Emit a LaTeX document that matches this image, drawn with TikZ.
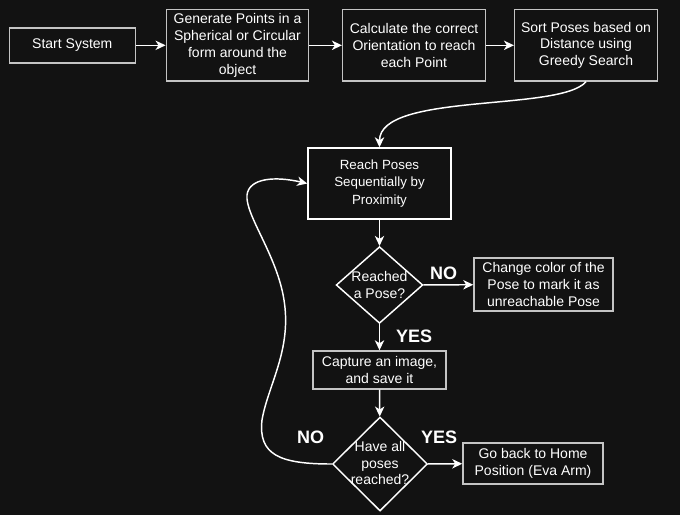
\documentclass[tikz,border=0pt]{standalone}
\usepackage{fontspec}
\setmainfont{Liberation Sans}
\usetikzlibrary{shapes.geometric,arrows.meta}
\definecolor{bgc}{HTML}{121212}
\definecolor{edgegray}{HTML}{C4C4C4}
\begin{document}
\begin{tikzpicture}[x=0.75pt,y=-0.75pt,
  box/.style={draw=edgegray, line width=1.1pt, fill=bgc, text=white, align=center, inner sep=0pt,
    font=\fontsize{10.5}{12.6}\selectfont},
  topbox/.style={box},
  dia/.style={diamond, draw=white, line width=1.1pt, fill=bgc, inner sep=0pt},
  diatext/.style={text=white, align=center, inner sep=0pt, font=\fontsize{10.5}{12.6}\selectfont},
  lbl/.style={text=white, inner sep=0pt, font=\bfseries\fontsize{13.5}{13.5}\selectfont},
  arr/.style={draw=white, line width=1.1pt, -{Stealth[length=7.5pt,width=7pt,inset=2.2pt]}}
]
\fill[bgc] (0,0) rectangle (680,515);
\useasboundingbox (0,0) rectangle (680,515);

\node[topbox, minimum width=94.5pt, minimum height=26.25pt] (start) at (72.3,45.3) {Start System};
\node[topbox, minimum width=106.8pt, minimum height=53.5pt] (gen) at (237.5,45.3) {Generate Points in a\\Spherical or Circular\\form around the\\object};
\node[topbox, minimum width=107pt, minimum height=53.5pt] (calc) at (414,45.3) {Calculate the correct\\Orientation to reach\\each Point};
\node[topbox, minimum width=107pt, minimum height=53.5pt] (sort) at (586,45.3) {Sort Poses based on\\Distance using\\Greedy Search};

\node[box, draw=white, minimum width=107.25pt, minimum height=53.25pt, font=\fontsize{10}{12.9}\selectfont] (reach) at (379.5,183.5) {Reach Poses\\Sequentially by\\Proximity};
\node[dia, minimum width=65pt, minimum height=57.5pt] (d1) at (379.5,285) {};
\node[diatext] (d1t) at (379.5,285) {Reached\\a Pose?};
\node[box, minimum width=104.25pt, minimum height=39.75pt] (change) at (543.5,284.5) {Change color of the\\Pose to mark it as\\unreachable Pose};
\node[box, minimum width=99.75pt, minimum height=28.5pt] (capture) at (379.5,370) {Capture an image,\\and save it};
\node[dia, minimum width=71.25pt, minimum height=70.5pt] (d2) at (380,464) {};
\node[diatext] (d2t) at (380,463) {Have all\\poses\\reached?};
\node[box, minimum width=105pt, minimum height=30.75pt] (home) at (533,463.5) {Go back to Home\\Position (Eva Arm)};

\node[lbl] (no1) at (443.5,273.5) {NO};
\node[lbl] (yes1) at (414,336) {YES};
\node[lbl] (no2) at (310.5,437.5) {NO};
\node[lbl] (yes2) at (439,437.5) {YES};

\draw[arr] (start) -- (gen);
\draw[arr] (gen) -- (calc);
\draw[arr] (calc) -- (sort);
\draw[arr] (sort.south) .. controls (560,112) and (379.5,92) .. (reach.north);
\draw[arr] (reach) -- (d1);
\draw[arr] (d1) -- (change);
\draw[arr] (d1) -- (capture);
\draw[arr] (capture) -- (d2);
\draw[arr] (d2) -- (home);
\coordinate (c1) at (262,420);
\coordinate (c2) at (284,300);
\coordinate (c3) at (247,195);
\draw[arr] (d2.west) .. controls (280,464) and (258,455) .. (c1)
  .. controls (268,385) and (292,350) .. (c2)
  .. controls (277,255) and (245,215) .. (c3)
  .. controls (249,178) and (275,176) .. (reach.west);
\end{tikzpicture}
\end{document}
